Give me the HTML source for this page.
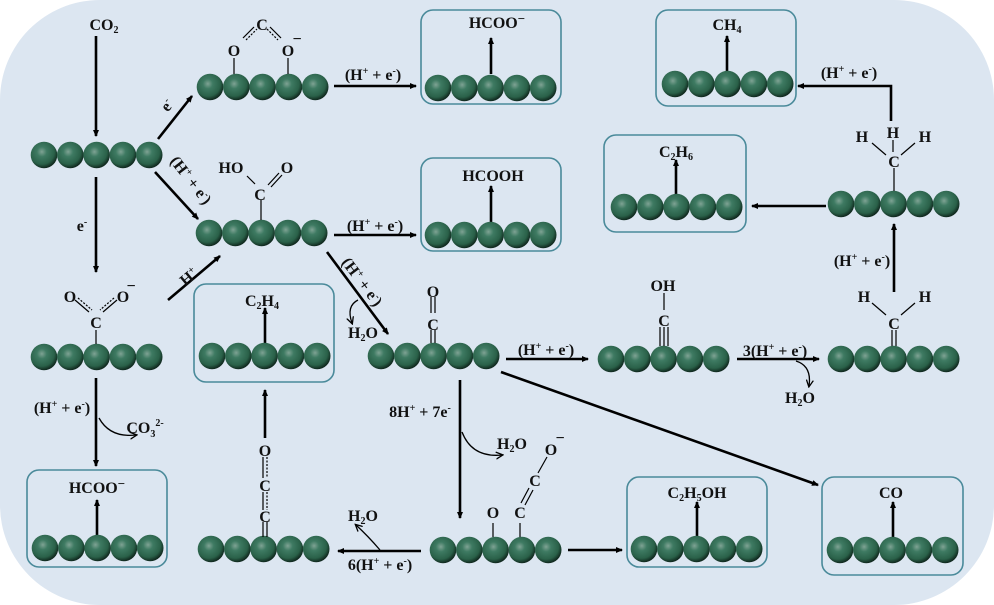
<!DOCTYPE html>
<html><head><meta charset="utf-8"><style>
html,body{margin:0;padding:0;background:#fff;}
svg{display:block;}
text{font-family:"Liberation Serif",serif;font-weight:bold;font-size:16px;fill:#111;text-anchor:middle;}
.s{font-size:10px;}
</style></head><body>
<svg width="994" height="605" viewBox="0 0 994 605" xmlns="http://www.w3.org/2000/svg">
<defs>
<radialGradient id="g" cx="0.42" cy="0.38" r="0.62">
<stop offset="0" stop-color="#7fa394"/>
<stop offset="0.3" stop-color="#3e7a62"/>
<stop offset="0.75" stop-color="#2a6149"/>
<stop offset="1" stop-color="#10281e"/>
</radialGradient>
<g id="ch">
<circle cx="0" cy="0" r="13.3" fill="url(#g)"/>
<circle cx="26.3" cy="0" r="13.3" fill="url(#g)"/>
<circle cx="52.6" cy="0" r="13.3" fill="url(#g)"/>
<circle cx="78.9" cy="0" r="13.3" fill="url(#g)"/>
<circle cx="105.2" cy="0" r="13.3" fill="url(#g)"/>
</g>
<marker id="a" markerWidth="8" markerHeight="8" refX="6" refY="4" orient="auto" markerUnits="userSpaceOnUse">
<path d="M0,1 L7,4 L0,7 Z" fill="#000"/>
</marker>
<marker id="b" markerWidth="8" markerHeight="8" refX="6" refY="4" orient="auto" markerUnits="userSpaceOnUse">
<path d="M0,0.5 L7,4 L0,7.5" fill="none" stroke="#000" stroke-width="1.3"/>
</marker>
</defs>
<rect x="0" y="0" width="994" height="605" rx="100" ry="100" fill="#dce6f1"/>

<g fill="none" stroke="#4a8a9a" stroke-width="1.6">
<rect x="421" y="10" width="140" height="94" rx="12"/>
<rect x="421" y="158" width="140" height="93" rx="12"/>
<rect x="27" y="470" width="140" height="97" rx="12"/>
<rect x="194" y="284" width="140" height="98" rx="12"/>
<rect x="656" y="10" width="140" height="96" rx="12"/>
<rect x="604" y="135" width="142" height="97" rx="12"/>
<rect x="627" y="477" width="140" height="90" rx="12"/>
<rect x="822" y="477" width="141" height="98" rx="12"/>
</g>

<g stroke="#000" stroke-width="2.6" fill="none" marker-end="url(#a)">
<line x1="96" y1="36" x2="96" y2="136"/>
<line x1="158" y1="139" x2="192" y2="96"/>
<line x1="155" y1="172" x2="198" y2="219"/>
<line x1="96" y1="177" x2="96" y2="272"/>
<line x1="168" y1="300" x2="220" y2="256"/>
<line x1="96" y1="378" x2="96" y2="466"/>
<line x1="334" y1="86" x2="416" y2="86"/>
<line x1="334" y1="235" x2="416" y2="235"/>
<line x1="327" y1="252" x2="388" y2="334"/>
<line x1="506" y1="359" x2="588" y2="359"/>
<line x1="737" y1="359" x2="819" y2="359"/>
<line x1="894" y1="292" x2="894" y2="224"/>
<line x1="826" y1="206" x2="752" y2="206"/>
<polyline points="891,121 891,86 798,86"/>
<line x1="501" y1="372" x2="818" y2="485"/>
<line x1="460" y1="380" x2="460" y2="518"/>
<line x1="568" y1="550" x2="622" y2="550"/>
<line x1="421" y1="551" x2="338" y2="551"/>
<line x1="265" y1="438" x2="265" y2="390"/>
</g>
<g stroke="#000" stroke-width="2.6" fill="none" marker-end="url(#a)">
<line x1="491" y1="74" x2="491" y2="38"/>
<line x1="491" y1="222" x2="491" y2="186"/>
<line x1="97" y1="535" x2="97" y2="500"/>
<line x1="265" y1="344" x2="265" y2="308"/>
<line x1="727" y1="71" x2="727" y2="36"/>
<line x1="676" y1="195" x2="676" y2="160"/>
<line x1="697" y1="537" x2="697" y2="502"/>
<line x1="893" y1="537" x2="893" y2="502"/>
</g>
<g stroke="#000" stroke-width="1.3" fill="none" marker-end="url(#b)">
<path d="M99,418 Q110,438 136,435"/>
<path d="M358,300 Q346,306 352,323"/>
<path d="M796,361 Q812,366 809,386"/>
<path d="M462,432 Q472,458 502,455"/>
<path d="M380,550 Q368,536 356,525"/>
</g>

<use href="#ch" x="44" y="155"/>
<use href="#ch" x="210" y="87"/>
<use href="#ch" x="438" y="88"/>
<use href="#ch" x="209" y="233"/>
<use href="#ch" x="438" y="235"/>
<use href="#ch" x="44" y="357"/>
<use href="#ch" x="45" y="548"/>
<use href="#ch" x="212" y="356"/>
<use href="#ch" x="381" y="356"/>
<use href="#ch" x="611" y="359"/>
<use href="#ch" x="841" y="359"/>
<use href="#ch" x="841" y="204"/>
<use href="#ch" x="624" y="207"/>
<use href="#ch" x="675" y="84"/>
<use href="#ch" x="211" y="549"/>
<use href="#ch" x="443" y="550"/>
<use href="#ch" x="644" y="549"/>
<use href="#ch" x="840" y="550"/>

<g stroke="#000" stroke-width="1.2" fill="none">
<line x1="234" y1="58" x2="234" y2="74"/>
<line x1="288" y1="58" x2="288" y2="74"/>
<line x1="243" y1="38" x2="254" y2="27"/>
<line x1="246" y1="40" x2="257" y2="29" stroke-dasharray="2,1.5"/>
<line x1="270" y1="27" x2="281" y2="38"/>
<line x1="267" y1="29" x2="278" y2="40" stroke-dasharray="2,1.5"/>
<line x1="261" y1="200" x2="261" y2="220"/>
<line x1="247" y1="176" x2="255" y2="184"/>
<line x1="268" y1="185" x2="279" y2="173"/>
<line x1="271" y1="187" x2="282" y2="175"/>
<line x1="96" y1="330" x2="96" y2="344"/>
<line x1="75" y1="300" x2="89" y2="312"/>
<line x1="78" y1="298" x2="92" y2="310" stroke-dasharray="2,1.5"/>
<line x1="117" y1="300" x2="103" y2="312"/>
<line x1="114" y1="298" x2="100" y2="310" stroke-dasharray="2,1.5"/>
<line x1="431" y1="297" x2="431" y2="313"/>
<line x1="435" y1="297" x2="435" y2="313"/>
<line x1="431" y1="330" x2="431" y2="343"/>
<line x1="435" y1="330" x2="435" y2="343"/>
<line x1="664" y1="293" x2="664" y2="310"/>
<line x1="660" y1="327" x2="660" y2="346"/>
<line x1="664" y1="327" x2="664" y2="346"/>
<line x1="668" y1="327" x2="668" y2="346"/>
<line x1="892" y1="330" x2="892" y2="346"/>
<line x1="896" y1="330" x2="896" y2="346"/>
<line x1="872" y1="303" x2="886" y2="315"/>
<line x1="915" y1="303" x2="901" y2="315"/>
<line x1="894" y1="168" x2="894" y2="191"/>
<line x1="872" y1="143" x2="886" y2="155"/>
<line x1="893" y1="140" x2="893" y2="152"/>
<line x1="915" y1="143" x2="901" y2="155"/>
<line x1="263" y1="457" x2="263" y2="478"/>
<line x1="267" y1="457" x2="267" y2="478" stroke-dasharray="2,1.5"/>
<line x1="263" y1="492" x2="263" y2="510"/>
<line x1="267" y1="492" x2="267" y2="510" stroke-dasharray="2,1.5"/>
<line x1="263" y1="522" x2="263" y2="537"/>
<line x1="267" y1="522" x2="267" y2="537"/>
<line x1="493" y1="523" x2="493" y2="537"/>
<line x1="520" y1="523" x2="520" y2="537"/>
<line x1="521" y1="503" x2="529" y2="488"/>
<line x1="525" y1="505" x2="533" y2="490"/>
<line x1="538" y1="473" x2="547" y2="457"/>
</g>

<text x="104" y="30">CO<tspan class="s" dy="3">2</tspan></text>
<text x="168" y="110" transform="rotate(-52 168 106)">e<tspan class="s" dy="-6">-</tspan></text>
<text x="190" y="185" transform="rotate(52 190 181)">(H<tspan class="s" dy="-6">+</tspan><tspan dy="6"> + e</tspan><tspan class="s" dy="-6">-</tspan><tspan dy="6">)</tspan></text>
<text x="82" y="231">e<tspan class="s" dy="-6">-</tspan></text>
<text x="189" y="282" transform="rotate(-40 189 277)">H<tspan class="s" dy="-6">+</tspan></text>
<text x="62" y="413">(H<tspan class="s" dy="-6">+</tspan><tspan dy="6"> + e</tspan><tspan class="s" dy="-6">-</tspan><tspan dy="6">)</tspan></text>
<text x="145" y="433">CO<tspan class="s" dy="4">3</tspan><tspan class="s" dy="-11">2-</tspan></text>
<text x="70" y="302">O</text><text x="123" y="302">O</text><text x="131" y="291" font-size="13px">−</text>
<text x="96" y="328">C</text>
<text x="234" y="56">O</text><text x="288" y="56">O</text><text x="297" y="44" font-size="13px">−</text>
<text x="262" y="30">C</text>
<text x="373" y="80">(H<tspan class="s" dy="-6">+</tspan><tspan dy="6"> + e</tspan><tspan class="s" dy="-6">-</tspan><tspan dy="6">)</tspan></text>
<text x="497" y="28">HCOO<tspan font-size="13px" dy="-5">−</tspan></text>
<text x="231" y="173">HO</text><text x="287" y="173">O</text>
<text x="260" y="200">C</text>
<text x="375" y="231">(H<tspan class="s" dy="-6">+</tspan><tspan dy="6"> + e</tspan><tspan class="s" dy="-6">-</tspan><tspan dy="6">)</tspan></text>
<text x="493" y="181">HCOOH</text>
<text x="362" y="287" transform="rotate(53 362 282)">(H<tspan class="s" dy="-6">+</tspan><tspan dy="6"> + e</tspan><tspan class="s" dy="-6">-</tspan><tspan dy="6">)</tspan></text>
<text x="363" y="338">H<tspan class="s" dy="3">2</tspan><tspan dy="-3">O</tspan></text>
<text x="262" y="306">C<tspan class="s" dy="3">2</tspan><tspan dy="-3">H</tspan><tspan class="s" dy="3">4</tspan></text>
<text x="97" y="493">HCOO<tspan font-size="13px" dy="-5">−</tspan></text>
<text x="433" y="297">O</text><text x="433" y="330">C</text>
<text x="546" y="355">(H<tspan class="s" dy="-6">+</tspan><tspan dy="6"> + e</tspan><tspan class="s" dy="-6">-</tspan><tspan dy="6">)</tspan></text>
<text x="663" y="291">OH</text><text x="664" y="326">C</text>
<text x="775" y="356">3(H<tspan class="s" dy="-6">+</tspan><tspan dy="6"> + e</tspan><tspan class="s" dy="-6">-</tspan><tspan dy="6">)</tspan></text>
<text x="800" y="403">H<tspan class="s" dy="3">2</tspan><tspan dy="-3">O</tspan></text>
<text x="864" y="302">H</text><text x="925" y="302">H</text><text x="894" y="329">C</text>
<text x="862" y="266">(H<tspan class="s" dy="-6">+</tspan><tspan dy="6"> + e</tspan><tspan class="s" dy="-6">-</tspan><tspan dy="6">)</tspan></text>
<text x="862" y="142">H</text><text x="893" y="138">H</text><text x="925" y="142">H</text><text x="894" y="167">C</text>
<text x="849" y="78">(H<tspan class="s" dy="-6">+</tspan><tspan dy="6"> + e</tspan><tspan class="s" dy="-6">-</tspan><tspan dy="6">)</tspan></text>
<text x="727" y="30">CH<tspan class="s" dy="3">4</tspan></text>
<text x="676" y="157">C<tspan class="s" dy="3">2</tspan><tspan dy="-3">H</tspan><tspan class="s" dy="3">6</tspan></text>
<text x="420" y="417">8H<tspan class="s" dy="-6">+</tspan><tspan dy="6"> + 7e</tspan><tspan class="s" dy="-6">-</tspan></text>
<text x="512" y="449">H<tspan class="s" dy="3">2</tspan><tspan dy="-3">O</tspan></text>
<text x="551" y="455">O</text><text x="560" y="443" font-size="13px">−</text>
<text x="535" y="486">C</text><text x="520" y="518">C</text><text x="493" y="518">O</text>
<text x="697" y="498">C<tspan class="s" dy="3">2</tspan><tspan dy="-3">H</tspan><tspan class="s" dy="3">5</tspan><tspan dy="-3">OH</tspan></text>
<text x="891" y="498">CO</text>
<text x="363" y="521">H<tspan class="s" dy="3">2</tspan><tspan dy="-3">O</tspan></text>
<text x="380" y="570">6(H<tspan class="s" dy="-6">+</tspan><tspan dy="6"> + e</tspan><tspan class="s" dy="-6">-</tspan><tspan dy="6">)</tspan></text>
<text x="265" y="456">O</text><text x="265" y="491">C</text><text x="265" y="522">C</text>
</svg>
</body></html>
